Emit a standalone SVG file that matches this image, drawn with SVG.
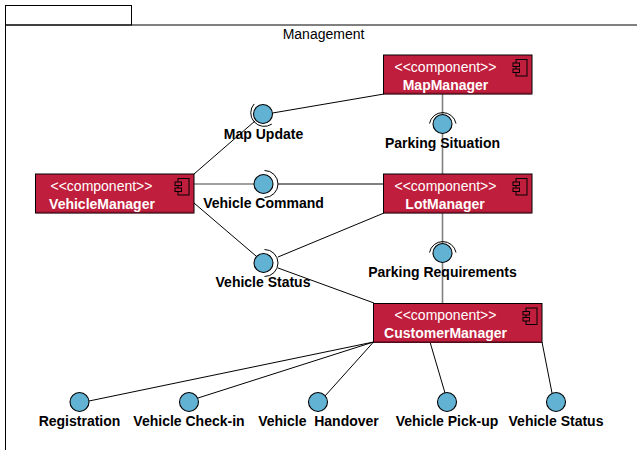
<svg xmlns="http://www.w3.org/2000/svg" width="637" height="450" viewBox="0 0 637 450">
<style>
text{font-family:"Liberation Sans",Arial,sans-serif;text-anchor:middle}
.frame{fill:none;stroke:#000;stroke-width:1}
.box{fill:#bf1e3c;stroke:#000;stroke-width:1}
.shade{stroke:#6a0f22;stroke-width:1.4;fill:none}
.st{font-size:14px;fill:#fff}
.nm{font-size:14px;font-weight:bold;fill:#fff}
.lb{font-size:14px;font-weight:bold;fill:#000}
.ball{fill:#62b2d4;stroke:#000;stroke-width:1.1}
.sock{fill:none;stroke:#000;stroke-width:1}
.ln{stroke:#000;stroke-width:1;fill:none}
.gl{stroke:#808080;stroke-width:1.6;fill:none}
.ic{fill:#bf1e3c;stroke:#000;stroke-width:1}
.ttl{font-size:14px;fill:#000}
</style>
<defs>
<g id="icon">
<rect class="ic" x="0" y="0" width="11" height="16.500"/>
<rect class="ic" x="-3" y="3.500" width="6.500" height="3.500"/>
<rect class="ic" x="-3" y="9.500" width="6.500" height="3.500"/>
</g>
</defs>
<g id="frame">
<rect class="frame" x="5.500" y="5.500" width="126" height="19.500"/>
<path class="frame" d="M637 25H5.500V450"/>
<text class="ttl" x="323.500" y="39">Management</text>
</g>
<g id="connectors">
<path class="ln" d="M194 174L255 121"/>
<path class="ln" d="M272.500 113L384 94"/>
<path class="gl" d="M194 184H254"/>
<path class="ln" d="M278 184H383"/>
<path class="ln" d="M194 203L256 256"/>
<path class="ln" d="M278 257L384 213"/>
<path class="ln" d="M278 268L374 303"/>
<path class="gl" d="M442.500 94V115M442.500 133V174"/>
<path class="gl" d="M442.500 213V244M442.500 262V303"/>
<path class="ln" d="M373.500 342L89 401"/>
<path class="ln" d="M373.500 342L198 398"/>
<path class="ln" d="M373.500 342L325 396"/>
<path class="ln" d="M430 342L445 393"/>
<path class="ln" d="M542 342L552 393"/>
</g>
<g id="vehicle-manager">
<rect class="box" x="35.500" y="174" width="158.500" height="39"/>
<path class="shade" d="M36 212.500H194"/>
<use href="#icon" x="178" y="178.500"/>
<text class="st" x="101.500" y="191">&lt;&lt;component&gt;&gt;</text>
<text class="nm" x="102" y="208.500">VehicleManager</text>
</g>
<g id="map-manager">
<rect class="box" x="383.500" y="55" width="148.500" height="39"/>
<path class="shade" d="M384 93.500H532"/>
<use href="#icon" x="516" y="59.500"/>
<text class="st" x="445.500" y="72">&lt;&lt;component&gt;&gt;</text>
<text class="nm" x="445.500" y="89.500">MapManager</text>
</g>
<g id="lot-manager">
<rect class="box" x="383.500" y="174" width="148.500" height="39"/>
<path class="shade" d="M384 212.500H532"/>
<use href="#icon" x="516" y="178.500"/>
<text class="st" x="445.500" y="191">&lt;&lt;component&gt;&gt;</text>
<text class="nm" x="445" y="208.500">LotManager</text>
</g>
<g id="customer-manager">
<rect class="box" x="373.500" y="303.500" width="168.500" height="39"/>
<path class="shade" d="M374 342H542"/>
<use href="#icon" x="526" y="308"/>
<text class="st" x="445.500" y="320">&lt;&lt;component&gt;&gt;</text>
<text class="nm" x="445.500" y="337.500">CustomerManager</text>
</g>
<g id="map-update">
<path class="sock" d="M254.200 103.900A13.500 13.500 0 0 0 271.800 124.100"/>
<circle class="ball" cx="263" cy="114" r="9.500"/>
<text class="lb" x="263.500" y="139">Map Update</text>
</g>
<g id="vehicle-command">
<path class="sock" d="M264.500 170.500A13.500 13.500 0 0 1 264.500 197.500"/>
<circle class="ball" cx="263.500" cy="184" r="9.500"/>
<text class="lb" x="263.500" y="208">Vehicle Command</text>
</g>
<g id="vehicle-status-link">
<path class="sock" d="M264.500 249.500A13.500 13.500 0 0 1 264.500 276.500"/>
<circle class="ball" cx="263.500" cy="263" r="9.500"/>
<text class="lb" x="263" y="287">Vehicle Status</text>
</g>
<g id="parking-situation">
<path class="sock" d="M429.500 123.500A13.500 13.500 0 0 1 456 123.500"/>
<circle class="ball" cx="442.500" cy="124" r="9.500"/>
<text class="lb" x="442.500" y="148">Parking Situation</text>
</g>
<g id="parking-requirements">
<path class="sock" d="M429.500 252.500A13.500 13.500 0 0 1 456 252.500"/>
<circle class="ball" cx="442.500" cy="253" r="9.500"/>
<text class="lb" x="442.500" y="277">Parking Requirements</text>
</g>
<g id="registration">
<circle class="ball" cx="79.500" cy="402" r="9.500"/>
<text class="lb" x="79.500" y="426">Registration</text>
</g>
<g id="check-in">
<circle class="ball" cx="189" cy="402" r="9.500"/>
<text class="lb" x="189" y="426">Vehicle Check-in</text>
</g>
<g id="handover">
<circle class="ball" cx="318" cy="402" r="9.500"/>
<text class="lb" x="318.500" y="426" xml:space="preserve">Vehicle  Handover</text>
</g>
<g id="pick-up">
<circle class="ball" cx="447" cy="402" r="9.500"/>
<text class="lb" x="447" y="426">Vehicle Pick-up</text>
</g>
<g id="vehicle-status">
<circle class="ball" cx="556" cy="402" r="9.500"/>
<text class="lb" x="556" y="426">Vehicle Status</text>
</g>
</svg>
